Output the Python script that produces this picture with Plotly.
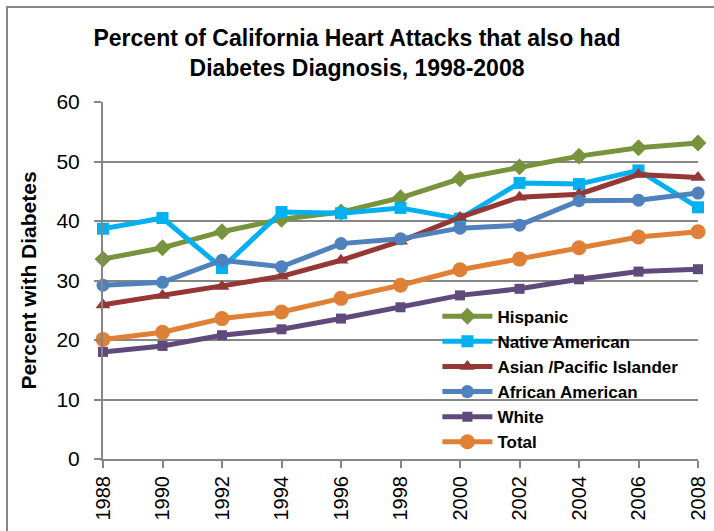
import plotly.graph_objects as go

years = [1988, 1990, 1992, 1994, 1996, 1998, 2000, 2002, 2004, 2006, 2008]
hispanic = [33.6, 35.5, 38.2, 40.3, 41.5, 43.9, 47.1, 49.1, 50.9, 52.3, 53.1]
native_american = [38.7, 40.5, 32.1, 41.5, 41.3, 42.2, 40.4, 46.4, 46.2, 48.5, 42.3]
asian_pi = [25.9, 27.5, 29.0, 30.7, 33.4, 36.6, 40.6, 44.0, 44.5, 47.8, 47.3]
african_american = [29.2, 29.7, 33.4, 32.3, 36.2, 37.0, 38.8, 39.3, 43.4, 43.5, 44.7]
white = [18.0, 19.0, 20.8, 21.8, 23.6, 25.5, 27.5, 28.6, 30.2, 31.5, 31.9]
total = [20.1, 21.3, 23.6, 24.7, 27.0, 29.2, 31.8, 33.6, 35.5, 37.3, 38.2]
y_ticks = [0, 10, 20, 30, 40, 50, 60]

series = [
    ("Hispanic", hispanic, "#77933C", "diamond", 13),
    ("Native American", native_american, "#00B0F0", "square", 12),
    ("Asian /Pacific Islander", asian_pi, "#953735", "triangle-up", 13),
    ("African American", african_american, "#4F81BD", "circle", 13),
    ("White", white, "#604A7B", "square", 10),
    ("Total", total, "#E08036", "circle", 15),
]

FONT = "Liberation Sans, Arial, sans-serif"

fig = go.Figure()
for name, vals, color, sym, size in series:
    fig.add_trace(go.Scatter(
        x=years, y=vals, name="<b>" + name + "</b>", mode="lines+markers",
        line=dict(color=color, width=5),
        marker=dict(symbol=sym, size=size, color=color),
        cliponaxis=False,
    ))

fig.update_layout(
    width=714, height=531,
    margin=dict(l=103, r=16, t=102, b=72),
    paper_bgcolor="white", plot_bgcolor="white",
    title=dict(
        text="<b>Percent of California Heart Attacks that also had<br>Diabetes Diagnosis, 1998-2008</b>",
        x=0.5, xanchor="center", y=0.914, yanchor="top",
        font=dict(family=FONT, size=23, color="black"),
    ),
    xaxis=dict(
        range=[1988, 2008], tickmode="array", tickvals=years,
        ticktext=[str(y) for y in years], tickangle=-90,
        showgrid=False, showline=True, linecolor="#868686", linewidth=2,
        ticks="outside", ticklen=7, tickcolor="#868686", tickwidth=2,
        tickfont=dict(family=FONT, size=20, color="black"),
        zeroline=False, automargin=False,
    ),
    yaxis=dict(
        range=[0, 60], tickmode="array", tickvals=y_ticks,
        showgrid=True, gridcolor="#868686", gridwidth=2,
        showline=True, linecolor="#868686", linewidth=2,
        ticks="outside", ticklen=7, tickcolor="#868686", tickwidth=2,
        tickfont=dict(family=FONT, size=21, color="black"),
        ticklabelstandoff=10,
        title=dict(text="<b>Percent with Diabetes</b>",
                   font=dict(family=FONT, size=21, color="black"),
                   standoff=14),
        zeroline=False, automargin=False,
    ),
    legend=dict(
        x=0.562, y=0.449, xanchor="left", yanchor="top",
        bgcolor="rgba(0,0,0,0)", borderwidth=0,
        font=dict(family=FONT, size=17, color="black"),
        itemwidth=50, tracegroupgap=0,
    ),
    showlegend=True,
    shapes=[dict(type="rect", xref="paper", yref="paper",
                 x0=(7 - 103) / 595, x1=1.2, y0=-0.5, y1=(459 - 7) / 357,
                 line=dict(color="#868686", width=2), fillcolor="rgba(0,0,0,0)",
                 layer="above")],
)

fig.write_html("out.html", config={"displayModeBar": False},
               post_script="document.body.style.margin='0px';")
